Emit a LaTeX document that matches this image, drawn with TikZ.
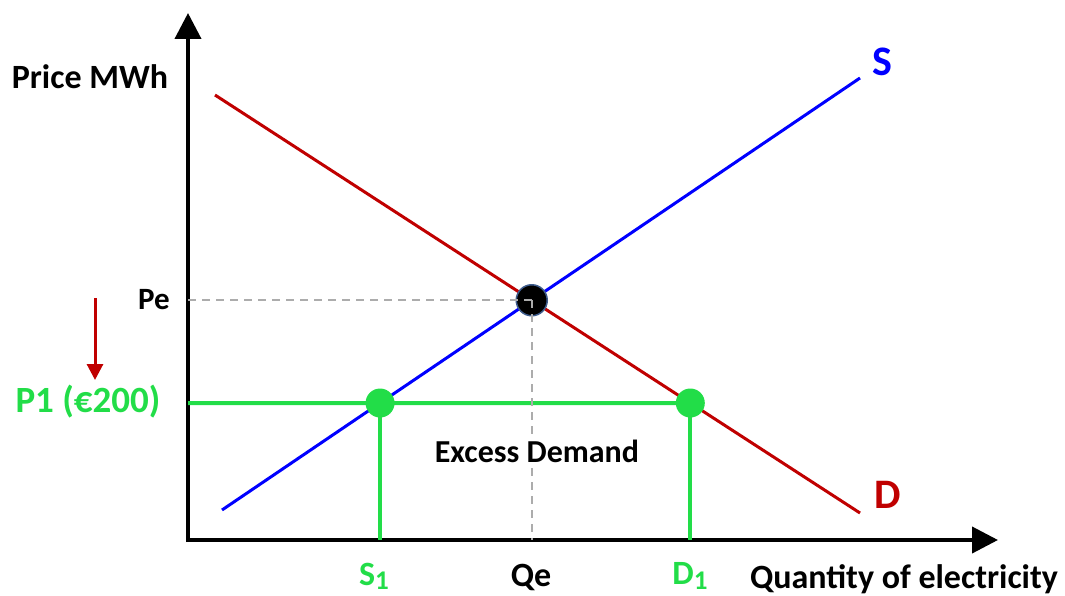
\documentclass[tikz,border=0pt]{standalone}
\usepackage{fontspec}
\setmainfont{Carlito}
\usetikzlibrary{positioning, arrows.meta}
\definecolor{supplyblue}{RGB}{0,0,255}
\definecolor{demandred}{RGB}{192,0,0}
\definecolor{pricegreen}{RGB}{34,221,72}
\definecolor{dotrim}{RGB}{62,92,140}
\newcommand{\lowone}{\raisebox{-0.12em}{\fontsize{27}{30}\selectfont 1}}
\begin{document}
\begin{tikzpicture}[x=1pt, y=-1pt,
    every node/.style={font=\bfseries\fontsize{34}{38}\selectfont, inner sep=2pt},
    axis/.style={line width=4pt, -{Triangle[length=26pt, width=26pt]}},
    curve/.style={line width=3pt},
    guide/.style={gray!65, line width=2pt, dash pattern=on 8pt off 6pt},
    pricebar/.style={pricegreen, line width=4pt},
    greendot/.style={circle, fill=pricegreen, minimum size=29pt, inner sep=0pt},
    eqdot/.style={circle, fill=black, draw=dotrim, line width=1.5pt, minimum size=31pt, inner sep=0pt},
    biglabel/.style={font=\bfseries\fontsize{42}{46}\selectfont}
  ]
    \useasboundingbox (0,0) rectangle (1065,596);
    % axes
    \coordinate (origin) at (188,540);
    \coordinate (ytop) at (188,13);
    \coordinate (xend) at (998,540);
    \draw[axis] (origin |- 0,542) -- (ytop);
    \draw[axis] (186,540) -- (xend);

    % supply and demand
    \coordinate (dstart) at (215,95);
    \coordinate (dend) at (860,513);
    \coordinate (sstart) at (222,510);
    \coordinate (send) at (860,78);
    \draw[curve, demandred] (dstart) -- (dend);
    \draw[curve, supplyblue] (sstart) -- (send);
    \coordinate (eq) at (intersection of dstart--dend and sstart--send);

    % price ceiling
    \coordinate (pleft) at (188,403);
    \coordinate (pright) at (900,403);
    \coordinate (s1) at (intersection of sstart--send and pleft--pright);
    \coordinate (d1) at (intersection of dstart--dend and pleft--pright);
    \draw[pricebar] (pleft) -- (d1);
    \draw[pricebar] (s1) -- (s1 |- origin);
    \draw[pricebar] (d1) -- (d1 |- origin);
    \node[greendot] (s1dot) at (s1) {};
    \node[greendot] (d1dot) at (d1) {};

    % equilibrium
    \node[eqdot] (eqdot) at (eq) {};
    \draw[guide] (origin |- eq) -- (eq);
    \draw[guide] (eq) -- (eq |- origin);

    % labels
    \node (pricelabel) at (90,77) {Price MWh};
    \node[font=\bfseries\fontsize{31}{34}\selectfont] (pe) at (154,300) {Pe};
    \node[pricegreen, font=\bfseries\fontsize{37}{40}\selectfont] (p1) at (88,402) {P1 (€200)};
    \node[biglabel, supplyblue] (slabel) at (882,62) {S};
    \node[biglabel, demandred] (dlabel) at (888,495) {D};
    \node[fill=white, font=\bfseries\fontsize{32}{36}\selectfont] (excess) at (537,451) {Excess Demand};
    \node[pricegreen] (s1label) at (374,576) {S\lowone};
    \node (qe) at (531,577) {Qe};
    \node[pricegreen] (d1label) at (690,576) {D\lowone};
    \node (qlabel) at (904,579) {Quantity of electricity};

    % price fall
    \coordinate (falltop) at (95,298);
    \coordinate (fallend) at (95,380);
    \draw[demandred, line width=3pt, -{Triangle[length=16pt, width=16pt]}] (falltop) -- (fallend);
\end{tikzpicture}
\end{document}
